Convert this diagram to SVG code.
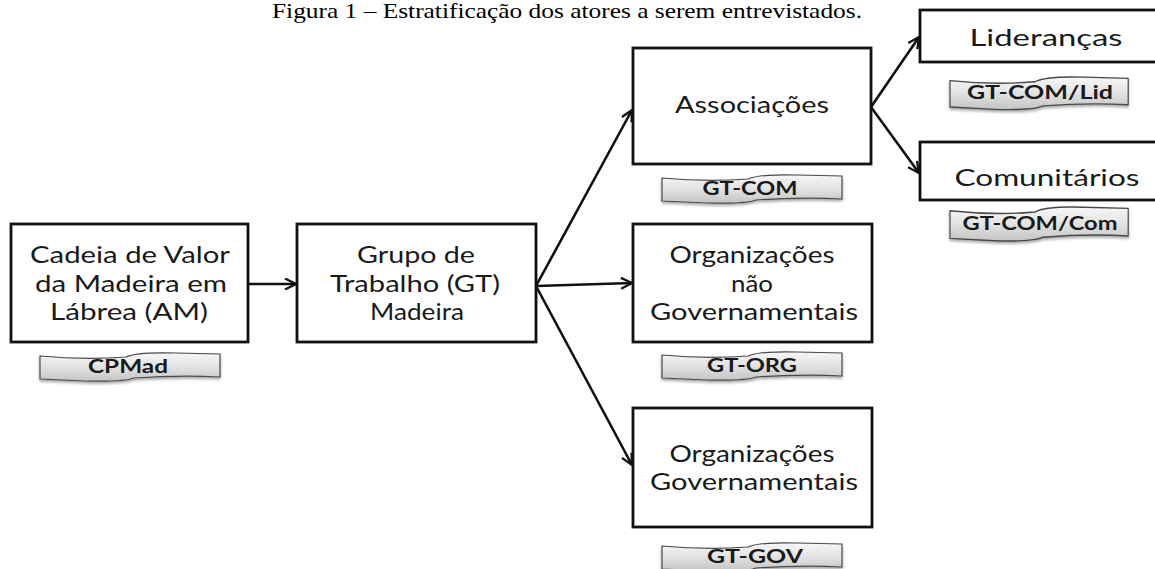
<svg xmlns="http://www.w3.org/2000/svg" width="1155" height="569" viewBox="0 0 1155 569">
  <style>
    .box { fill: #ffffff; stroke: #111111; stroke-width: 2.8; }
    .lbl { font-family: Lato, "Open Sans", "Liberation Sans", sans-serif; font-size: 23px; fill: #1a1a1a; text-anchor: middle; }
    .tagtxt { font-family: Lato, "Open Sans", "Liberation Sans", sans-serif; font-size: 18px; font-weight: bold; fill: #1a1a1a; text-anchor: middle; }
    .tag { fill: url(#tagFill); stroke: #4a4a4a; stroke-width: 1.2; filter: url(#tagShadow); }
    .edge { fill: none; stroke: #111111; stroke-width: 2.6; marker-end: url(#arrow); }
    .title { font-family: "Liberation Serif", "Times New Roman", serif; font-size: 22px; fill: #000000; text-anchor: middle; }
  </style>
  <defs>
    <linearGradient id="tagFill" x1="0" y1="0" x2="0" y2="1">
      <stop offset="0" stop-color="#f7f7f7"/>
      <stop offset="0.5" stop-color="#e2e2e2"/>
      <stop offset="1" stop-color="#c4c4c4"/>
    </linearGradient>
    <filter id="tagShadow" x="-10%" y="-30%" width="120%" height="180%">
      <feGaussianBlur in="SourceAlpha" stdDeviation="1.5"/>
      <feOffset dx="0" dy="2" result="blur"/>
      <feComponentTransfer><feFuncA type="linear" slope="0.35"/></feComponentTransfer>
      <feMerge><feMergeNode/><feMergeNode in="SourceGraphic"/></feMerge>
    </filter>
    <!-- wavy banner used beneath each box, 180 x 28 -->
    <path id="banner" d="M0,4 Q45,8 86,5 Q96,0 135,1 L180,2 L180,25 Q140,23 94,26 Q84,30 45,29 L0,27 Z"/>
    <marker id="arrow" viewBox="0 0 13 13" refX="12" refY="6.5" markerWidth="13" markerHeight="13" markerUnits="userSpaceOnUse" orient="auto">
      <path d="M1,1 L12,6.5 L1,12" fill="none" stroke="#111111" stroke-width="2.3" stroke-linejoin="miter"/>
    </marker>
  </defs>

  <text class="title" x="567" y="18" textLength="590" lengthAdjust="spacingAndGlyphs">Figura 1 – Estratificação dos atores a serem entrevistados.</text>

  <g id="connectors">
    <line class="edge" x1="248" y1="284" x2="296" y2="284"/>
    <line class="edge" x1="536" y1="286" x2="632" y2="110"/>
    <line class="edge" x1="536" y1="286" x2="632" y2="283"/>
    <line class="edge" x1="536" y1="286" x2="632" y2="465"/>
    <line class="edge" x1="871" y1="107" x2="919" y2="37"/>
    <line class="edge" x1="871" y1="107" x2="919" y2="173"/>
  </g>

  <g id="cadeia">
    <rect class="box" x="11" y="224" width="237" height="118"/>
    <text class="lbl" x="130" y="263" textLength="200" lengthAdjust="spacingAndGlyphs">Cadeia de Valor</text>
    <text class="lbl" x="131" y="292" textLength="192" lengthAdjust="spacingAndGlyphs">da Madeira em</text>
    <text class="lbl" x="129" y="320" textLength="158" lengthAdjust="spacingAndGlyphs">Lábrea (AM)</text>
  </g>
  <g id="tag-cpmad">
    <use href="#banner" class="tag" transform="translate(40,352)"/>
    <text class="tagtxt" x="128" y="373" textLength="80" lengthAdjust="spacingAndGlyphs">CPMad</text>
  </g>

  <g id="grupo">
    <rect class="box" x="297" y="224" width="239" height="118"/>
    <text class="lbl" x="416" y="263" textLength="118" lengthAdjust="spacingAndGlyphs">Grupo de</text>
    <text class="lbl" x="415" y="292" textLength="170" lengthAdjust="spacingAndGlyphs">Trabalho (GT)</text>
    <text class="lbl" x="417" y="320" textLength="94" lengthAdjust="spacingAndGlyphs">Madeira</text>
  </g>

  <g id="associacoes">
    <rect class="box" x="633" y="48" width="238" height="116"/>
    <text class="lbl" x="752" y="113" textLength="154" lengthAdjust="spacingAndGlyphs">Associações</text>
  </g>
  <g id="tag-gtcom">
    <use href="#banner" class="tag" transform="translate(662,174)"/>
    <text class="tagtxt" x="750" y="195" textLength="95" lengthAdjust="spacingAndGlyphs">GT-COM</text>
  </g>

  <g id="ong">
    <rect class="box" x="633" y="224" width="239" height="118"/>
    <text class="lbl" x="752" y="263" textLength="165" lengthAdjust="spacingAndGlyphs">Organizações</text>
    <text class="lbl" x="752" y="292" textLength="42" lengthAdjust="spacingAndGlyphs">não</text>
    <text class="lbl" x="754" y="320" textLength="208" lengthAdjust="spacingAndGlyphs">Governamentais</text>
  </g>
  <g id="tag-gtorg">
    <use href="#banner" class="tag" transform="translate(662,351)"/>
    <text class="tagtxt" x="752" y="372" textLength="90" lengthAdjust="spacingAndGlyphs">GT-ORG</text>
  </g>

  <g id="og">
    <rect class="box" x="633" y="408" width="239" height="119"/>
    <text class="lbl" x="752" y="462" textLength="165" lengthAdjust="spacingAndGlyphs">Organizações</text>
    <text class="lbl" x="754" y="490" textLength="208" lengthAdjust="spacingAndGlyphs">Governamentais</text>
  </g>
  <g id="tag-gtgov">
    <use href="#banner" class="tag" transform="translate(662,542)"/>
    <text class="tagtxt" x="755" y="563" textLength="96" lengthAdjust="spacingAndGlyphs">GT-GOV</text>
  </g>

  <g id="liderancas">
    <rect class="box" x="920" y="10" width="240" height="52"/>
    <text class="lbl" x="1046" y="46" textLength="153" lengthAdjust="spacingAndGlyphs">Lideranças</text>
  </g>
  <g id="tag-lid">
    <use href="#banner" class="tag" transform="translate(950,76) scale(0.99,1.15)"/>
    <text class="tagtxt" x="1040" y="99" textLength="146" lengthAdjust="spacingAndGlyphs">GT-COM/Lid</text>
  </g>

  <g id="comunitarios">
    <rect class="box" x="920" y="142" width="240" height="58"/>
    <text class="lbl" x="1047" y="186" textLength="185" lengthAdjust="spacingAndGlyphs">Comunitários</text>
  </g>
  <g id="tag-com">
    <use href="#banner" class="tag" transform="translate(950,206) scale(0.99,1.2)"/>
    <text class="tagtxt" x="1040" y="230" textLength="155" lengthAdjust="spacingAndGlyphs">GT-COM/Com</text>
  </g>
</svg>
